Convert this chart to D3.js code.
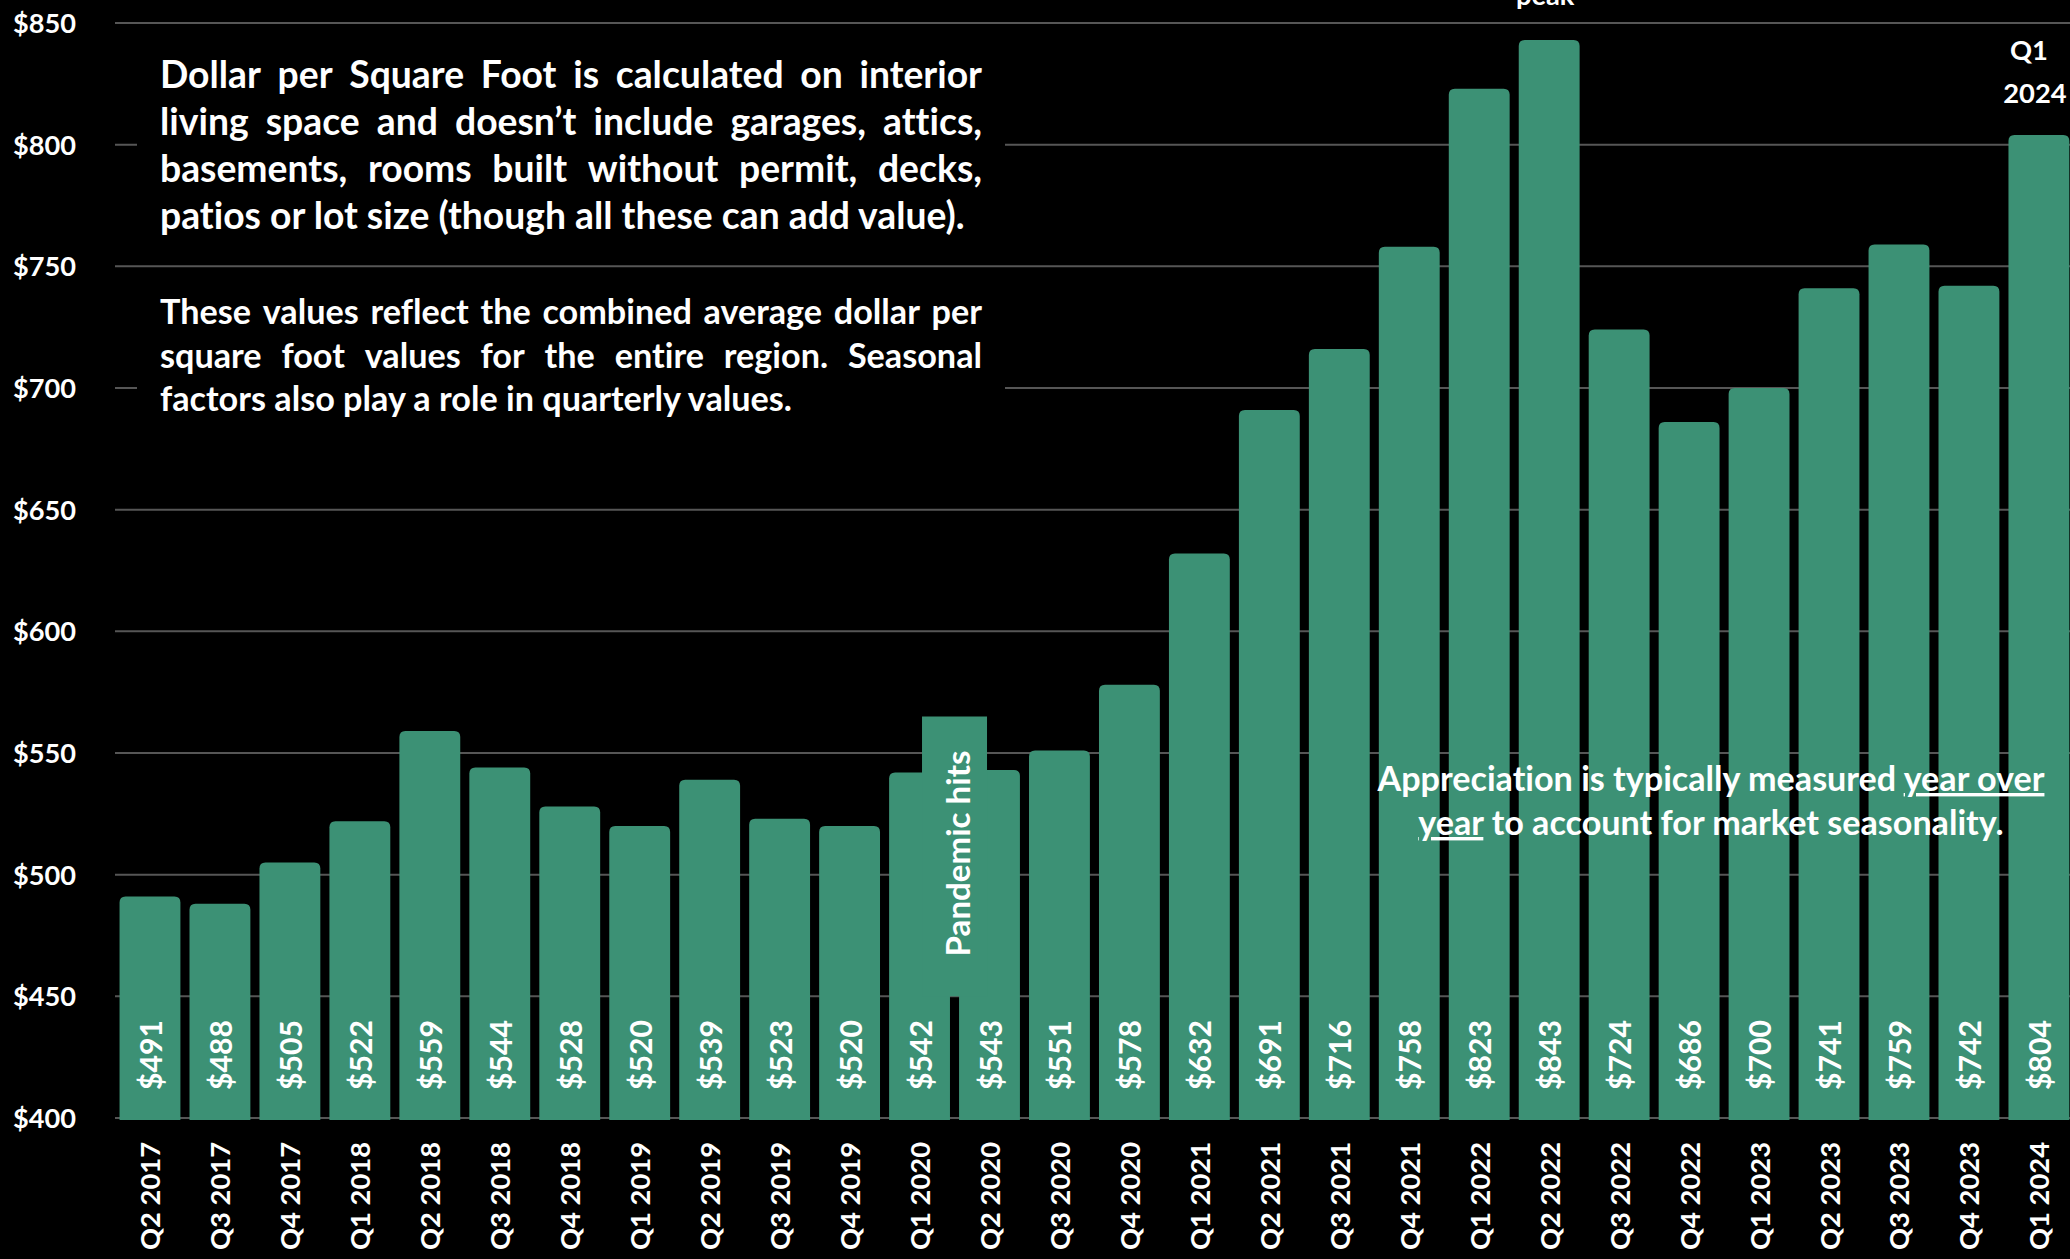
<!DOCTYPE html>
<html>
<head>
<meta charset="utf-8">
<script src="https://cdn.jsdelivr.net/npm/d3@7"></script>
<style>
  html, body { margin: 0; padding: 0; background: #000; }
  svg { display: block; }
  text { font-family: Lato, "Open Sans", sans-serif; fill: #fff; font-variant-ligatures: none; }
</style>
</head>
<body>
<svg id="chart" width="2070" height="1259"></svg>
<script>
// Quarterly average dollar per square foot
const categories = [
  "Q2 2017", "Q3 2017", "Q4 2017",
  "Q1 2018", "Q2 2018", "Q3 2018", "Q4 2018",
  "Q1 2019", "Q2 2019", "Q3 2019", "Q4 2019",
  "Q1 2020", "Q2 2020", "Q3 2020", "Q4 2020",
  "Q1 2021", "Q2 2021", "Q3 2021", "Q4 2021",
  "Q1 2022", "Q2 2022", "Q3 2022", "Q4 2022",
  "Q1 2023", "Q2 2023", "Q3 2023", "Q4 2023",
  "Q1 2024"
];
const values = [
  491, 488, 505,
  522, 559, 544, 528,
  520, 539, 523, 520,
  542, 543, 551, 578,
  632, 691, 716, 758,
  823, 843, 724, 686,
  700, 741, 759, 742,
  804
];
const yTicks = [400, 450, 500, 550, 600, 650, 700, 750, 800, 850];

const noteDefinition = [
  "Dollar per Square Foot is calculated on interior",
  "living space and doesn\u2019t include garages, attics,",
  "basements, rooms built without permit, decks,",
  "patios or lot size (though all these can add value)."
];
const noteRegion = [
  "These values reflect the combined average dollar per",
  "square foot values for the entire region. Seasonal",
  "factors also play a role in quarterly values."
];
const pandemicLabel = "Pandemic hits";
const peakLabel = "peak";
const latestLabel = ["Q1", "2024"];

const W = 2070, H = 1259;
const BAR = "#3C9175";
const GRID = "#565656";

const svg = d3.select("#chart");

// Text measuring helper, used to size type to the layout
const probe = svg.append("text").attr("x", -9999).attr("y", -9999);
function measure(str, size, weight) {
  probe.attr("font-size", size).attr("font-weight", weight).text(str);
  return probe.node().getComputedTextLength();
}
function fitSize(str, width, weight) {
  return 100 * width / measure(str, 100, weight);
}

const x = d3.scaleBand()
  .domain(categories)
  .range([115, 115 + 28 * 69.96])
  .paddingInner(0.13)
  .paddingOuter(0.065);

const y = d3.scaleLinear()
  .domain([400, 850])
  .range([1118, 23]);

// Gridlines
svg.append("g")
  .selectAll("line")
  .data(yTicks)
  .join("line")
  .attr("x1", 115).attr("x2", W)
  .attr("y1", d => y(d)).attr("y2", d => y(d))
  .attr("stroke", GRID)
  .attr("stroke-width", 2);

// Y axis labels
const yAxis = d3.axisLeft(y)
  .tickValues(yTicks)
  .tickSize(0)
  .tickPadding(0)
  .tickFormat(d => "$" + d);
const yFont = fitSize("$850", 63, 700);
const yg = svg.append("g").attr("transform", "translate(76,0)").call(yAxis);
yg.select(".domain").remove();
yg.selectAll("text")
  .attr("font-size", yFont)
  .attr("font-weight", 700)
  .attr("font-family", "Lato, sans-serif")
  .attr("fill", "#fff")
  .attr("dy", "0.35em");

// Note boxes (black panels masking the gridlines behind them)
function justifiedBlock(lines, left, right, firstBaseline, lineGap, size) {
  const g = svg.append("g");
  const width = right - left;
  lines.forEach((line, i) => {
    const t = g.append("text")
      .attr("font-size", size)
      .attr("font-weight", 700)
      .attr("y", firstBaseline + i * lineGap);
    const words = line.split(" ");
    const last = i === lines.length - 1;
    if (last || words.length < 2) {
      t.attr("x", left).text(line);
      return;
    }
    const widths = words.map(w => measure(w, size, 700));
    const gap = (width - d3.sum(widths)) / (words.length - 1);
    let cx = left;
    words.forEach((w, k) => {
      t.append("tspan").attr("x", cx).text(w);
      cx += widths[k] + gap;
    });
  });
  return g;
}

svg.append("rect")
  .attr("x", 137).attr("y", 40).attr("width", 868).attr("height", 205)
  .attr("fill", "#000");
svg.append("rect")
  .attr("x", 137).attr("y", 285).attr("width", 868).attr("height", 145)
  .attr("fill", "#000");

const sizeDef = fitSize(noteDefinition[3], 805, 700);
justifiedBlock(noteDefinition, 160, 982, 88, 47, sizeDef);
const sizeReg = fitSize(noteRegion[2], 632, 700);
justifiedBlock(noteRegion, 160, 982, 324, 43.5, sizeReg);

// Bars with rounded top corners
const r = 6;
function barPath(d, i) {
  const x0 = x(categories[i]);
  const x1 = x0 + x.bandwidth();
  const yt = y(d);
  const yb = y(400) + 2;
  return `M${x0},${yb} L${x0},${yt + r} Q${x0},${yt} ${x0 + r},${yt} ` +
         `L${x1 - r},${yt} Q${x1},${yt} ${x1},${yt + r} L${x1},${yb} Z`;
}
svg.append("g")
  .selectAll("path")
  .data(values)
  .join("path")
  .attr("d", barPath)
  .attr("fill", BAR);

// Value labels inside the bars
const valFont = fitSize("$491", 70, 700);
svg.append("g")
  .selectAll("text")
  .data(values)
  .join("text")
  .attr("transform", (d, i) => `translate(${x(categories[i]) + x.bandwidth() / 2},1090) rotate(-90)`)
  .attr("text-anchor", "start")
  .attr("dominant-baseline", "central")
  .attr("font-size", valFont)
  .attr("font-weight", 700)
  .text(d => "$" + d);

// Category labels
const xFont = fitSize("Q2 2017", 108, 700);
svg.append("g")
  .selectAll("text")
  .data(categories)
  .join("text")
  .attr("transform", d => `translate(${x(d) + x.bandwidth() / 2},1142) rotate(-90)`)
  .attr("text-anchor", "end")
  .attr("dominant-baseline", "central")
  .attr("font-size", xFont)
  .attr("font-weight", 700)
  .text(d => d);

// Pandemic callout bridging Q1 and Q2 2020
const iQ1 = categories.indexOf("Q1 2020");
const gapMid = (x(categories[iQ1]) + x.bandwidth() + x(categories[iQ1 + 1])) / 2;
const calloutTop = y(565), calloutBottom = y(450);
svg.append("rect")
  .attr("x", gapMid - 32.5).attr("width", 65)
  .attr("y", calloutTop).attr("height", calloutBottom - calloutTop)
  .attr("fill", BAR);
svg.append("text")
  .attr("transform", `translate(${gapMid + 2},${(calloutTop + calloutBottom) / 2 - 3}) rotate(-90)`)
  .attr("text-anchor", "middle")
  .attr("dominant-baseline", "central")
  .attr("font-size", fitSize(pandemicLabel, 206, 700))
  .attr("font-weight", 700)
  .text(pandemicLabel);

// Peak marker above Q2 2022
const peakIdx = values.indexOf(d3.max(values));
svg.append("text")
  .attr("x", x(categories[peakIdx]) + x.bandwidth() / 2 - 4)
  .attr("y", 5)
  .attr("text-anchor", "middle")
  .attr("font-size", xFont)
  .attr("font-weight", 700)
  .text(peakLabel);

// Latest quarter marker
const lastCx = x(categories[categories.length - 1]) + x.bandwidth() / 2;
svg.append("g")
  .selectAll("text")
  .data(latestLabel)
  .join("text")
  .attr("x", (d, i) => lastCx - (i === 0 ? 10 : 4))
  .attr("y", (d, i) => 60 + i * 43)
  .attr("text-anchor", "middle")
  .attr("font-size", xFont)
  .attr("font-weight", 700)
  .text(d => d);

// Seasonality note over the bars
const apprFont = fitSize("Appreciation is typically measured year over", 667, 700);
const appr = svg.append("g")
  .attr("font-size", apprFont)
  .attr("font-weight", 700);
const l1 = appr.append("text").attr("x", 1711).attr("y", 791).attr("text-anchor", "middle");
l1.append("tspan").text("Appreciation is typically measured ");
l1.append("tspan").attr("text-decoration", "underline").style("text-decoration", "underline").text("year over");
const l2 = appr.append("text").attr("x", 1711).attr("y", 835).attr("text-anchor", "middle");
l2.append("tspan").attr("text-decoration", "underline").style("text-decoration", "underline").text("year");
l2.append("tspan").text(" to account for market seasonality.");

probe.remove();
</script>
</body>
</html>
